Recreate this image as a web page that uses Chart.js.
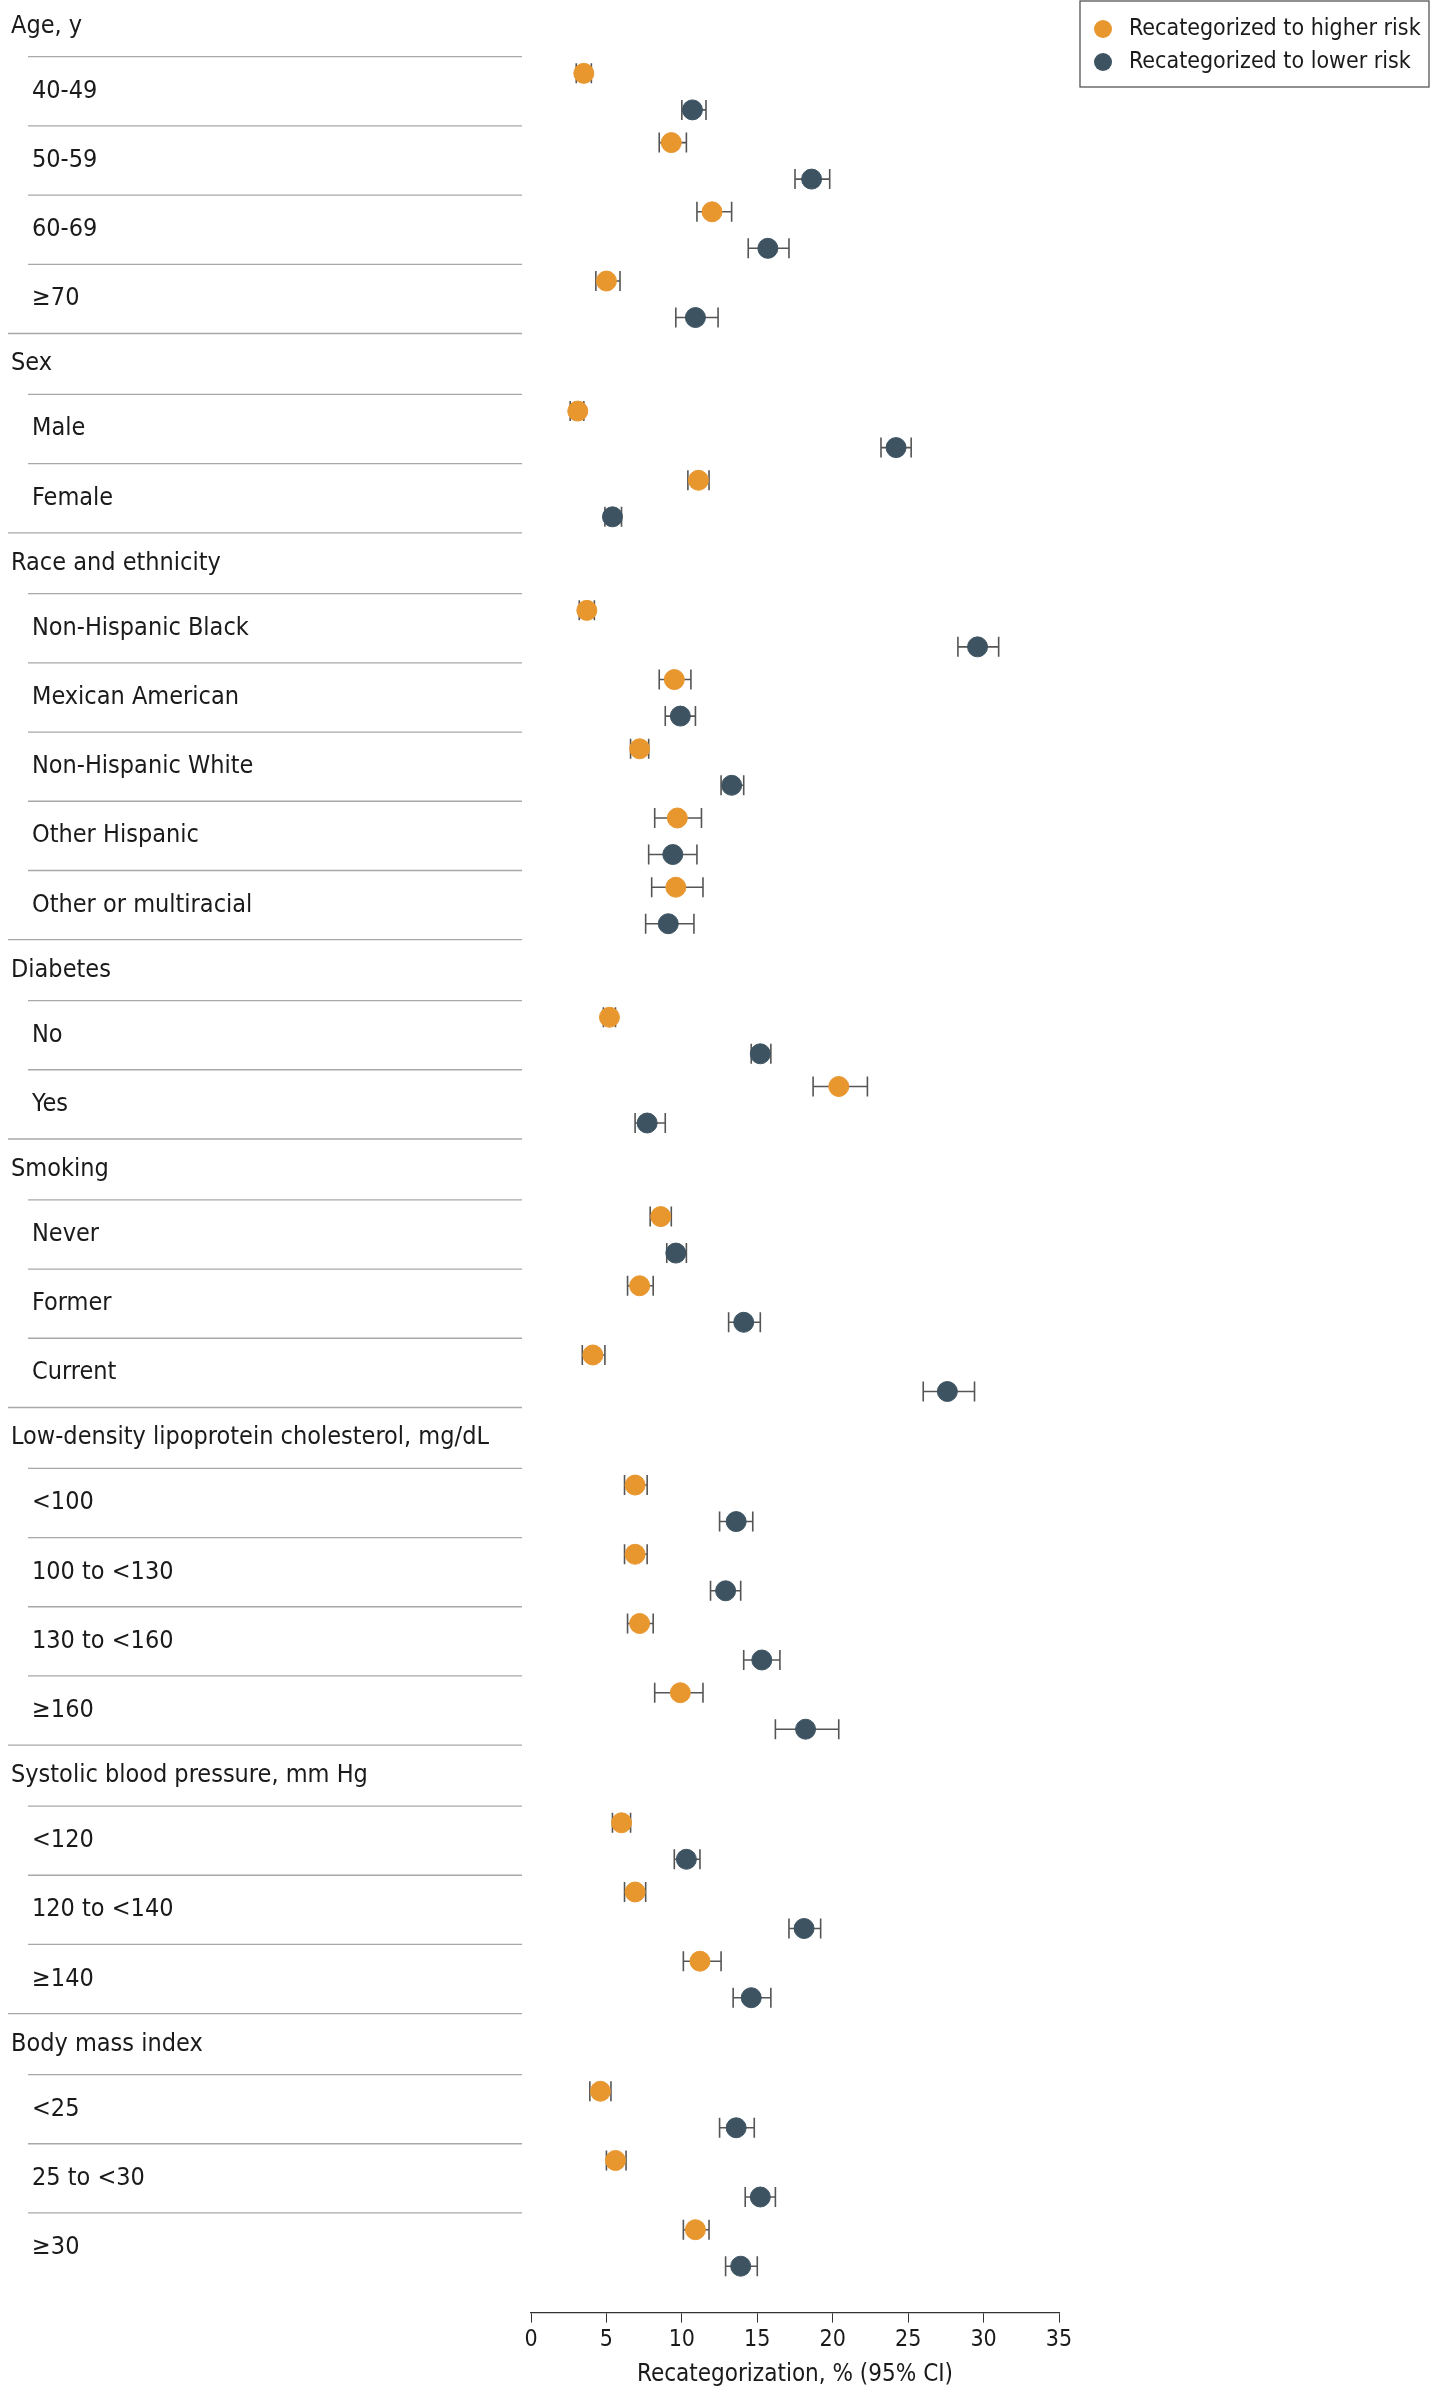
<!DOCTYPE html>
<html>
<head>
<meta charset="utf-8">
<script src="https://cdn.jsdelivr.net/npm/chart.js@4"></script>
<style>
  html, body { margin: 0; padding: 0; background: #fff; }
  #wrap { width: 1438px; height: 2403px; }
</style>
</head>
<body>
<div id="wrap"><canvas id="c"></canvas></div>
<script>
// Groups and their rows
const groups = ['Age, y', 'Sex', 'Race and ethnicity', 'Diabetes', 'Smoking',
    'Low-density lipoprotein cholesterol, mg/dL', 'Systolic blood pressure, mm Hg', 'Body mass index'];
const rowLabels = [
    ['40-49', '50-59', '60-69', '≥70'],
    ['Male', 'Female'],
    ['Non-Hispanic Black', 'Mexican American', 'Non-Hispanic White', 'Other Hispanic', 'Other or multiracial'],
    ['No', 'Yes'],
    ['Never', 'Former', 'Current'],
    ['<100', '100 to <130', '130 to <160', '≥160'],
    ['<120', '120 to <140', '≥140'],
    ['<25', '25 to <30', '≥30']
];

// Recategorized to higher risk: estimate, lower CI, upper CI (row order)
const higherEst = [3.5, 9.3, 12.0, 5.0, 3.1, 11.1, 3.7, 9.5, 7.2, 9.7, 9.6, 5.2, 20.4, 8.6, 7.2, 4.1, 6.9, 6.9, 7.2, 9.9, 6.0, 6.9, 11.2, 4.6, 5.6, 10.9];
const higherLo  = [3.0, 8.5, 11.0, 4.3, 2.6, 10.4, 3.2, 8.5, 6.6, 8.2, 8.0, 4.8, 18.7, 7.9, 6.4, 3.4, 6.2, 6.2, 6.4, 8.2, 5.4, 6.2, 10.1, 3.9, 5.0, 10.1];
const higherHi  = [4.0, 10.3, 13.3, 5.9, 3.5, 11.8, 4.2, 10.6, 7.8, 11.3, 11.4, 5.6, 22.3, 9.3, 8.1, 4.9, 7.7, 7.7, 8.1, 11.4, 6.6, 7.6, 12.6, 5.3, 6.3, 11.8];

// Recategorized to lower risk
const lowerEst = [10.7, 18.6, 15.7, 10.9, 24.2, 5.4, 29.6, 9.9, 13.3, 9.4, 9.1, 15.2, 7.7, 9.6, 14.1, 27.6, 13.6, 12.9, 15.3, 18.2, 10.3, 18.1, 14.6, 13.6, 15.2, 13.9];
const lowerLo  = [10.0, 17.5, 14.4, 9.6, 23.2, 4.9, 28.3, 8.9, 12.6, 7.8, 7.6, 14.6, 6.9, 9.0, 13.1, 26.0, 12.5, 11.9, 14.1, 16.2, 9.5, 17.1, 13.4, 12.5, 14.2, 12.9];
const lowerHi  = [11.6, 19.8, 17.1, 12.4, 25.2, 6.0, 31.0, 10.9, 14.1, 11.0, 10.8, 15.9, 8.9, 10.3, 15.2, 29.4, 14.7, 13.9, 16.5, 20.4, 11.2, 19.2, 15.9, 14.8, 16.2, 15.0];

const xTicks = [0, 5, 10, 15, 20, 25, 30, 35];

const ORANGE = '#E8962E';
const DARK = '#3D5361';
const FONT = '"Liberation Sans Narrow", "DejaVu Sans Condensed", "Liberation Sans", sans-serif';

// Build vertical layout (units of y scale)
const HEADER_H = 40, ROW_H = 45.5;
const headerPos = [], rowPos = [], groupEnd = [];
let cur = -10;
groups.forEach((g, gi) => {
    headerPos.push(cur);
    cur += HEADER_H;
    rowLabels[gi].forEach(() => { rowPos.push(cur); cur += ROW_H; });
    groupEnd.push(cur);
});

const higherPts = higherEst.map((v, i) => ({ x: v, y: rowPos[i] + 11, lo: higherLo[i], hi: higherHi[i] }));
const lowerPts = lowerEst.map((v, i) => ({ x: v, y: rowPos[i] + 35, lo: lowerLo[i], hi: lowerHi[i] }));

const forestPlugin = {
    id: 'forest',
    beforeDatasetsDraw(chart) {
        const ctx = chart.ctx, xs = chart.scales.x, ys = chart.scales.y;
        ctx.save();
        // error bars
        ctx.strokeStyle = '#555';
        ctx.lineWidth = 1.6;
        chart.data.datasets.forEach(ds => {
            ds.data.forEach(p => {
                const y = ys.getPixelForValue(p.y);
                const x1 = xs.getPixelForValue(p.lo), x2 = xs.getPixelForValue(p.hi);
                ctx.beginPath();
                ctx.moveTo(x1, y); ctx.lineTo(x2, y);
                ctx.moveTo(x1, y - 10); ctx.lineTo(x1, y + 10);
                ctx.moveTo(x2, y - 10); ctx.lineTo(x2, y + 10);
                ctx.stroke();
            });
        });
        // left label column
        ctx.fillStyle = '#1a1a1a';
        ctx.textBaseline = 'middle';
        ctx.strokeStyle = '#a8a8a8';
        ctx.lineWidth = 1.3;
        let r = 0;
        groups.forEach((g, gi) => {
            ctx.font = '25px ' + FONT;
            ctx.fillText(g, 11, ys.getPixelForValue(headerPos[gi] + HEADER_H / 2));
            rowLabels[gi].forEach((lab, li) => {
                const top = rowPos[r];
                const yl = ys.getPixelForValue(top);
                ctx.beginPath(); ctx.moveTo(28, yl); ctx.lineTo(522, yl); ctx.stroke();
                ctx.fillText(lab, 32, ys.getPixelForValue(top + ROW_H / 2));
                r++;
            });
            if (gi < groups.length - 1) {
                const ye = ys.getPixelForValue(groupEnd[gi]);
                ctx.beginPath(); ctx.moveTo(8, ye); ctx.lineTo(522, ye); ctx.stroke();
            }
        });
        // legend
        ctx.strokeStyle = '#555';
        ctx.lineWidth = 1.3;
        ctx.strokeRect(1080, 1, 349, 86);
        ctx.font = '23px ' + FONT;
        [[ORANGE, 'Recategorized to higher risk', 29], [DARK, 'Recategorized to lower risk', 62]].forEach(([c, t, y]) => {
            ctx.fillStyle = c;
            ctx.beginPath(); ctx.arc(1103, y, 9, 0, Math.PI * 2); ctx.fill();
            ctx.fillStyle = '#1a1a1a';
            ctx.fillText(t, 1129, y);
        });
        ctx.restore();
    }
};

new Chart(document.getElementById('c'), {
    type: 'scatter',
    data: {
        datasets: [
            { label: 'Recategorized to higher risk', data: higherPts, backgroundColor: ORANGE, borderColor: ORANGE, pointRadius: 10, pointHoverRadius: 10 },
            { label: 'Recategorized to lower risk', data: lowerPts, backgroundColor: DARK, borderColor: DARK, pointRadius: 10, pointHoverRadius: 10 }
        ]
    },
    options: {
        responsive: true,
        maintainAspectRatio: false,
        animation: false,
        layout: { padding: { left: 531, right: 379, top: 0, bottom: 10 } },
        plugins: { legend: { display: false }, tooltip: { enabled: false } },
        scales: {
            x: {
                type: 'linear', min: 0, max: 35,
                afterBuildTicks: axis => { axis.ticks = xTicks.map(v => ({ value: v })); },
                grid: { drawOnChartArea: false, tickLength: 10, color: '#333' },
                border: { color: '#333', width: 1.3 },
                ticks: { color: '#1a1a1a', font: { family: FONT, size: 23 }, padding: 4 },
                title: { display: true, text: 'Recategorization, % (95% CI)', color: '#1a1a1a', font: { family: FONT, size: 24 }, padding: { top: 2 } }
            },
            y: {
                type: 'linear', min: 0, max: 1513, reverse: true, display: false
            }
        }
    },
    plugins: [forestPlugin]
});
</script>
</body>
</html>
